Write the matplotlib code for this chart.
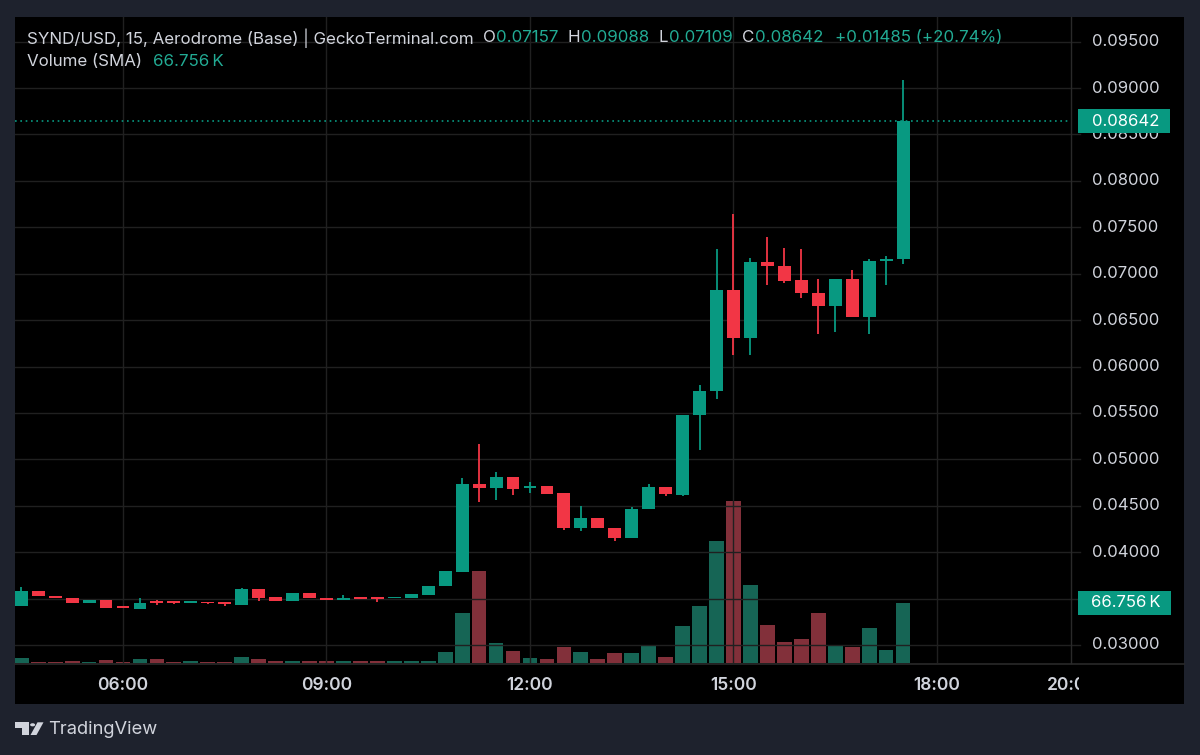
import matplotlib
matplotlib.use("Agg")
import matplotlib.pyplot as plt
from matplotlib.patches import Rectangle, Polygon, Circle
from matplotlib.lines import Line2D
from matplotlib.transforms import Bbox

plt.rcParams['font.family'] = ['Inter', 'DejaVu Sans']

# 15-minute candles from 04:30 to 17:30
start_hour = 4.5
opens = [0.03424, 0.03579, 0.03532, 0.03510, 0.03450, 0.03482, 0.03413, 0.03393, 0.03467, 0.03464,
         0.03453, 0.03464, 0.03457, 0.03431, 0.03600, 0.03514, 0.03478, 0.03560, 0.03504, 0.03489,
         0.03514, 0.03514, 0.03503, 0.03503, 0.03543, 0.03636, 0.03790, 0.04729, 0.04689, 0.04807,
         0.04686, 0.04714, 0.04636, 0.04259, 0.04363, 0.04263, 0.04152, 0.04461, 0.04703, 0.04621,
         0.05474, 0.05735, 0.06821, 0.06309, 0.07126, 0.07083, 0.06929, 0.06796, 0.06649, 0.06947,
         0.06531, 0.07133, 0.07157]
highs = [0.03628, 0.03579, 0.03532, 0.03510, 0.03482, 0.03482, 0.03413, 0.03510, 0.03482, 0.03475,
         0.03464, 0.03464, 0.03468, 0.03614, 0.03600, 0.03514, 0.03560, 0.03560, 0.03504, 0.03536,
         0.03514, 0.03514, 0.03514, 0.03549, 0.03639, 0.03797, 0.04804, 0.05170, 0.04861, 0.04807,
         0.04754, 0.04714, 0.04636, 0.04500, 0.04363, 0.04263, 0.04485, 0.04729, 0.04703, 0.05474,
         0.05797, 0.07269, 0.07646, 0.07169, 0.07398, 0.07273, 0.07266, 0.06947, 0.06947, 0.07036,
         0.07158, 0.07187, 0.09088]
lows = [0.03424, 0.03525, 0.03504, 0.03450, 0.03450, 0.03395, 0.03400, 0.03393, 0.03428, 0.03443,
        0.03453, 0.03443, 0.03425, 0.03431, 0.03478, 0.03478, 0.03478, 0.03504, 0.03486, 0.03489,
        0.03500, 0.03468, 0.03503, 0.03503, 0.03543, 0.03636, 0.03790, 0.04536, 0.04560, 0.04617,
        0.04632, 0.04628, 0.04241, 0.04227, 0.04256, 0.04116, 0.04152, 0.04461, 0.04600, 0.04607,
        0.05100, 0.05654, 0.06119, 0.06119, 0.06875, 0.06900, 0.06735, 0.06355, 0.06377, 0.06531,
        0.06355, 0.06875, 0.07109]
closes = [0.03579, 0.03525, 0.03504, 0.03450, 0.03482, 0.03400, 0.03400, 0.03455, 0.03453, 0.03453,
          0.03464, 0.03450, 0.03443, 0.03600, 0.03507, 0.03478, 0.03560, 0.03504, 0.03486, 0.03507,
          0.03500, 0.03500, 0.03514, 0.03549, 0.03639, 0.03797, 0.04729, 0.04689, 0.04807, 0.04682,
          0.04711, 0.04628, 0.04259, 0.04363, 0.04256, 0.04152, 0.04467, 0.04703, 0.04625, 0.05474,
          0.05735, 0.06821, 0.06309, 0.07126, 0.07079, 0.06925, 0.06793, 0.06649, 0.06947, 0.06531,
          0.07133, 0.07162, 0.08642]
volumes_k = [5.6, 1.4, 1.4, 2.2, 1.4, 3.7, 1.4, 4.1, 4.5, 1.4,
             1.9, 1.4, 1.4, 6.7, 4.5, 1.9, 2.6, 1.9, 1.9, 1.9,
             1.9, 2.6, 1.9, 2.2, 2.6, 12.2, 55.7, 102.0, 21.8, 12.9,
             5.6, 4.8, 17.8, 12.2, 4.0, 11.5, 10.7, 18.5, 7.0, 41.2,
             63.0, 135.3, 179.9, 87.1, 42.6, 22.9, 27.0, 55.7, 20.0, 17.8,
             39.0, 14.5, 66.756]

price_ticks = [0.030, 0.035, 0.040, 0.045, 0.050, 0.055, 0.060, 0.065, 0.070, 0.075, 0.080, 0.085, 0.090, 0.095]
hidden_price_labels = [0.035]  # sits under the volume marker on the scale
time_ticks = [6, 9, 12, 15, 18, 20]
time_labels = ["06:00", "09:00", "12:00", "15:00", "18:00", "20:00"]

header_title = "SYND/USD, 15, Aerodrome (Base) | GeckoTerminal.com"
ohlc_labels = ["O", "H", "L", "C"]
ohlc_values = ["0.07157", "0.09088", "0.07109", "0.08642"]
change_text = "+0.01485 (+20.74%)"
last_price = 0.08642
last_volume = 66.756

# colours
FRAME = '#1e222d'
GRID = '#202020'
SEP = '#2a2a2a'
UP = '#089981'
DOWN = '#f23645'
UP_VOL = '#166555'
DOWN_VOL = '#82303a'
TXT = '#d1d4dc'
LEG_GREEN = '#22ab94'

W, H = 1200, 755


def fx(x):
    return x / W


def fy(y):
    return 1 - y / H


fig = plt.figure(figsize=(W / 100, H / 100), dpi=100, facecolor=FRAME)

# black chart panel
fig.patches.append(Rectangle((fx(15), fy(704)), fx(1169), 687 / H, transform=fig.transFigure,
                             facecolor='black', edgecolor='none', zorder=-1))

rect = [fx(15), fy(663), fx(1055), 646 / H]
vax = fig.add_axes(rect)
ax = fig.add_axes(rect, sharex=vax)
ax.patch.set_visible(False)
vax.set_facecolor('black')

xs = [start_hour + 0.25 * i for i in range(len(opens))]
vax.set_xlim(4.4078, 19.961)
ax.set_ylim(0.02806, 0.09765)
vax.set_ylim(0, 718.7)

for a in (ax, vax):
    for s in a.spines.values():
        s.set_visible(False)
    a.tick_params(left=False, bottom=False, labelleft=False, labelbottom=False)
    a.set_yticks([])
    a.set_xticks([])

# grid
for p in price_ticks:
    vax.add_line(Line2D([0, 1], [p, p], transform=ax.get_yaxis_transform(), color=GRID, lw=1))
for t in time_ticks[:-1]:
    vax.axvline(t, color=GRID, lw=1)

# volume
vol_cols = [UP_VOL if c >= o else DOWN_VOL for o, c in zip(opens, closes)]
vax.bar(xs, volumes_k, width=0.2175, color=vol_cols, linewidth=0)

# candles
for x, o, h, l, c in zip(xs, opens, highs, lows, closes):
    col = UP if c >= o else DOWN
    ax.vlines(x, l, h, color=col, lw=1.3, zorder=3)
    body = max(abs(c - o), 0.00016)
    ax.bar(x, body, bottom=min(o, c), width=0.19, color=col, linewidth=0, zorder=4)

# last price dotted line
ax.axhline(last_price, color=UP, lw=1.2, ls=(0, (1, 2.2)), zorder=2)

# price scale labels and ticks
for p in price_ticks:
    if p not in hidden_price_labels:
        ax.text(1 + 22 / 1055, p, f"{p:.5f}", transform=ax.get_yaxis_transform(), ha='left', va='center',
                color=TXT, fontsize=12, clip_on=False)
    ax.add_line(Line2D([1, 1 + 10 / 1055], [p, p], transform=ax.get_yaxis_transform(), color=GRID,
                       lw=1, clip_on=False))

# separators
fig.lines.append(Line2D([fx(1070.5), fx(1070.5)], [fy(17), fy(663)], transform=fig.transFigure, color=SEP, lw=1))
fig.lines.append(Line2D([fx(15), fx(1184)], [fy(664), fy(664)], transform=fig.transFigure, color=SEP, lw=1.2))

# time labels (clipped at the price scale like the original)
clip = Bbox.from_extents(0, 0, 1079, H)
for t, lab in zip(time_ticks, time_labels):
    xpix = ax.transData.transform((t, 0.05))[0]
    txt = fig.text(fx(xpix), fy(686), lab, ha='center', va='center', color=TXT, fontsize=12.5,
                   fontweight='semibold')
    txt.set_clip_box(clip)
    txt.set_clip_on(True)

# last price / volume labels on the scale
ylp = H - ax.transData.transform((10, last_price))[1]
fig.patches.append(Rectangle((fx(1078), fy(ylp + 12)), fx(92), 24 / H, transform=fig.transFigure,
                             facecolor=UP, edgecolor='none', zorder=2))
fig.text(fx(1092), fy(ylp), f"{last_price:.5f}", ha='left', va='center', color='white', fontsize=12, zorder=3)
ylv = H - vax.transData.transform((10, last_volume))[1]
fig.patches.append(Rectangle((fx(1078), fy(ylv + 12)), fx(93), 24 / H, transform=fig.transFigure,
                             facecolor=UP, edgecolor='none', zorder=2))
fig.text(fx(1091), fy(ylv), f"{last_volume:.3f}\u2009K", ha='left', va='center', color='white', fontsize=12,
         zorder=3)

# legend header, laid out left to right
renderer = fig.canvas.get_renderer()


def put(x, y, s, color, size=12.2):
    t = fig.text(fx(x), fy(y), s, ha='left', va='center', color=color, fontsize=size)
    return t.get_window_extent(renderer).x1


x = put(27, 38, header_title, TXT)
for lab, val in zip(ohlc_labels, ohlc_values):
    x = put(x + 9, 38, lab, TXT)
    x = put(x + 1, 38, val, LEG_GREEN)
put(x + 11, 38, change_text, LEG_GREEN)

x = put(27, 61, "Volume (SMA)", TXT)
put(x + 11, 61, f"{last_volume:.3f}\u2009K", LEG_GREEN)

# TradingView footer
logo_col = '#d1d4dc'
fig.patches.append(Polygon([(fx(15), fy(722.3)), (fx(29), fy(722.3)), (fx(29), fy(735)), (fx(21.5), fy(735)),
                            (fx(21.5), fy(727.6)), (fx(15), fy(727.6))], closed=True,
                           transform=fig.transFigure, facecolor=logo_col, edgecolor='none'))
fig.patches.append(Circle((fx(32.6), fy(724.8)), 2.5 / W, transform=fig.transFigure,
                          facecolor=logo_col, edgecolor='none'))
fig.patches.append(Polygon([(fx(37.5), fy(722.3)), (fx(43.5), fy(722.3)), (fx(36.5), fy(735)), (fx(30.5), fy(735))],
                           closed=True, transform=fig.transFigure, facecolor=logo_col, edgecolor='none'))
fig.text(fx(48), fy(730), "TradingView", ha='left', va='center', color=logo_col, fontsize=13.2)

fig.savefig("out.png", dpi=100, facecolor=FRAME)
